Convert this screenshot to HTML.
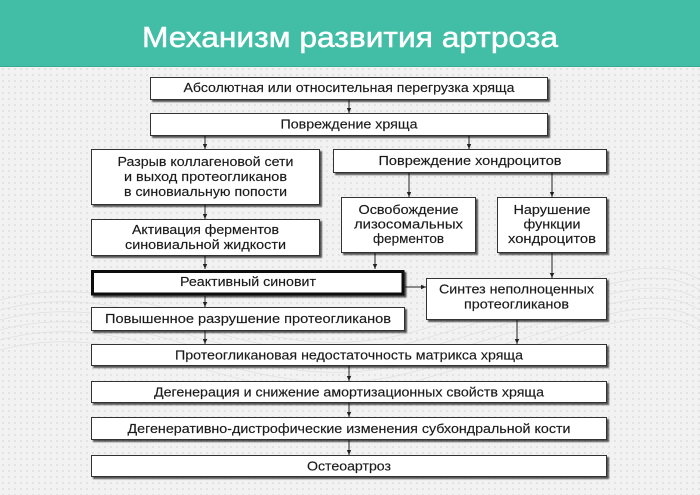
<!DOCTYPE html>
<html><head><meta charset="utf-8">
<style>
html,body{margin:0;padding:0;}
body{width:700px;height:495px;overflow:hidden;position:relative;background:#f2f2f2;
background-image:radial-gradient(circle,#e0e0e0 0.8px,transparent 1.2px);background-size:6px 6px;}
.hdr{position:absolute;left:0;top:0;width:700px;height:66px;background:#43bea6;border-bottom:1px solid #38a890;}
svg{position:absolute;left:0;top:0;}
</style></head><body>
<div class="hdr"></div>
<svg width="700" height="495" viewBox="0 0 700 495" xmlns="http://www.w3.org/2000/svg">
<defs>
<filter id="sh" x="-5%" y="-20%" width="115%" height="160%">
<feDropShadow dx="2" dy="2" stdDeviation="0.8" flood-color="#000" flood-opacity="0.65"/>
</filter>
<marker id="ar" markerWidth="6" markerHeight="6" refX="5" refY="3" orient="auto" markerUnits="userSpaceOnUse">
<path d="M0,0.8 L5,3 L0,5.2 Z" fill="#222"/>
</marker>
</defs>
<!-- background swooshes -->
<g fill="none" stroke="#dedede" stroke-width="0.7" opacity="0.9">
<path d="M0,300 C150,260 250,380 420,330 S650,250 700,280"/>
<path d="M0,310 C150,270 250,390 420,340 S650,260 700,290"/>
<path d="M0,320 C150,280 250,400 420,350 S650,270 700,300"/>
<path d="M0,330 C150,290 250,410 420,360 S650,280 700,310"/>
<path d="M0,340 C150,300 250,420 420,370 S650,290 700,320"/>
<path d="M0,350 C150,310 250,430 420,380 S650,300 700,330"/>
</g>
<!-- title -->
<text x="350" y="47" text-anchor="middle" font-family="Liberation Sans, sans-serif" font-size="29" fill="#fff" textLength="416" lengthAdjust="spacingAndGlyphs" stroke="#fff" stroke-width="0.5">Механизм развития артроза</text>

<!-- connectors -->
<g stroke="#222" stroke-width="1" fill="none" marker-end="url(#ar)">
<line x1="349" y1="100" x2="349" y2="113"/>
<line x1="205" y1="136" x2="205" y2="149"/>
<line x1="469" y1="136" x2="469" y2="149"/>
<line x1="205" y1="205" x2="205" y2="219"/>
<line x1="409" y1="173" x2="409" y2="197"/>
<line x1="552" y1="173" x2="552" y2="197"/>
<line x1="205" y1="256" x2="205" y2="269"/>
<line x1="375" y1="253" x2="375" y2="269"/>
<line x1="405" y1="287" x2="426" y2="287"/>
<line x1="552" y1="253" x2="552" y2="278"/>
<line x1="205" y1="296" x2="205" y2="307"/>
<line x1="205" y1="331" x2="205" y2="344"/>
<line x1="517" y1="320" x2="517" y2="344"/>
<line x1="349" y1="366" x2="349" y2="381"/>
<line x1="349" y1="403" x2="349" y2="417"/>
<line x1="349" y1="440" x2="349" y2="455"/>
</g>

<!-- boxes -->
<g fill="#fff" stroke="#333" stroke-width="1" filter="url(#sh)">
<rect x="150.5" y="77.5" width="397" height="22"/>
<rect x="150.5" y="113.5" width="397" height="22"/>
<rect x="91.5" y="149.5" width="228" height="55"/>
<rect x="333.5" y="149.5" width="273" height="23"/>
<rect x="341.5" y="197.5" width="134" height="55"/>
<rect x="497.5" y="197.5" width="109" height="55"/>
<rect x="91.5" y="219.5" width="228" height="36"/>
<rect x="426.5" y="278.5" width="180" height="41"/>
<rect x="91.5" y="307.5" width="313" height="23"/>
<rect x="91.5" y="344.5" width="515" height="21"/>
<rect x="91.5" y="381.5" width="515" height="21"/>
<rect x="91.5" y="417.5" width="515" height="22"/>
<rect x="91.5" y="455.5" width="515" height="21"/>
</g>
<rect x="92.5" y="271.5" width="310.5" height="22.5" fill="#fff" stroke="#111" stroke-width="3" filter="url(#sh)"/>

<!-- labels -->
<g font-family="Liberation Sans, sans-serif" font-size="13" fill="#1a1a1a" stroke="#1a1a1a" stroke-width="0.15" text-anchor="middle">
<text x="349" y="92" textLength="331" lengthAdjust="spacingAndGlyphs">Абсолютная или относительная перегрузка хряща</text>
<text x="349" y="128.5" textLength="137" lengthAdjust="spacingAndGlyphs">Повреждение хряща</text>
<text x="205.5" y="166" textLength="176" lengthAdjust="spacingAndGlyphs">Разрыв коллагеновой сети</text>
<text x="205.5" y="181" textLength="163" lengthAdjust="spacingAndGlyphs">и выход протеогликанов</text>
<text x="205.5" y="196" textLength="163" lengthAdjust="spacingAndGlyphs">в синовиальную попости</text>
<text x="470" y="165" textLength="183" lengthAdjust="spacingAndGlyphs">Повреждение хондроцитов</text>
<text x="408.5" y="214" textLength="100" lengthAdjust="spacingAndGlyphs">Освобождение</text>
<text x="408.5" y="228.5" textLength="109" lengthAdjust="spacingAndGlyphs">лизосомальных</text>
<text x="408.5" y="243" textLength="71" lengthAdjust="spacingAndGlyphs">ферментов</text>
<text x="552" y="214" textLength="77" lengthAdjust="spacingAndGlyphs">Нарушение</text>
<text x="552" y="228.5" textLength="57" lengthAdjust="spacingAndGlyphs">функции</text>
<text x="552" y="243" textLength="88" lengthAdjust="spacingAndGlyphs">хондроцитов</text>
<text x="205.5" y="234" textLength="147" lengthAdjust="spacingAndGlyphs">Активация ферментов</text>
<text x="205.5" y="249" textLength="161" lengthAdjust="spacingAndGlyphs">синовиальной жидкости</text>
<text x="248" y="286" textLength="136" lengthAdjust="spacingAndGlyphs">Реактивный синовит</text>
<text x="516.5" y="293.5" textLength="155" lengthAdjust="spacingAndGlyphs">Синтез неполноценных</text>
<text x="516.5" y="308.5" textLength="105" lengthAdjust="spacingAndGlyphs">протеогликанов</text>
<text x="248" y="323" textLength="286" lengthAdjust="spacingAndGlyphs">Повышенное разрушение протеогликанов</text>
<text x="349" y="359.5" textLength="348" lengthAdjust="spacingAndGlyphs">Протеогликановая недостаточность матрикса хряща</text>
<text x="349" y="396.5" textLength="390" lengthAdjust="spacingAndGlyphs">Дегенерация и снижение амортизационных свойств хряща</text>
<text x="349" y="433" textLength="443" lengthAdjust="spacingAndGlyphs">Дегенеративно-дистрофические изменения субхондральной кости</text>
<text x="349" y="470.5" textLength="84" lengthAdjust="spacingAndGlyphs">Остеоартроз</text>
</g>
</svg>
</body></html>
